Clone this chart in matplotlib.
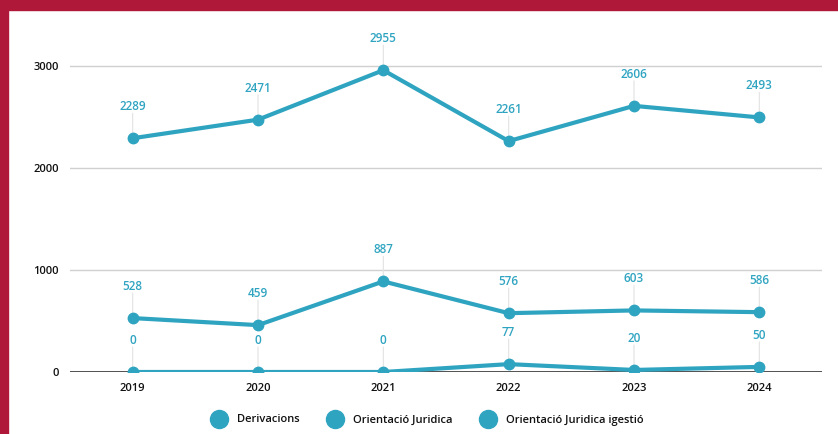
import matplotlib

matplotlib.use("Agg")
import matplotlib.pyplot as plt  # noqa: E402
from matplotlib.patches import Rectangle  # noqa: E402

years = [2019, 2020, 2021, 2022, 2023, 2024]
derivacions = [2289, 2471, 2955, 2261, 2606, 2493]
orientacio = [528, 459, 887, 576, 603, 586]
orientacio_gestio = [0, 0, 0, 77, 20, 50]
series_names = ["Derivacions", "Orientació Juridica", "Orientació Juridica igestió"]
yticks = [0, 1000, 2000, 3000]

C_LINE = "#2fa4c1"
C_BORDER = "#b0183a"

plt.rcParams["font.family"] = ["Open Sans", "DejaVu Sans"]

W, H = 838, 434
fig = plt.figure(figsize=(W / 100, H / 100), dpi=100)
fig.patches.append(Rectangle((0, 1 - 10 / H), 1, 10 / H, transform=fig.transFigure,
                             color=C_BORDER, zorder=-1))
fig.patches.append(Rectangle((0, 0), 8 / W, 1, transform=fig.transFigure,
                             color=C_BORDER, zorder=-1))

ax = fig.add_axes([70 / W, (H - 372) / H, (822 - 70) / W, (372 - 35) / H])
ax.set_xlim(2018.5, 2024.5)
ax.set_ylim(0, 3300)

for y in yticks[1:]:
    ax.axhline(y, color="#d0d0d0", lw=1, zorder=0)
ax.axhline(0, color="#333333", lw=1.2, zorder=1)

for vals in (derivacions, orientacio, orientacio_gestio):
    ax.plot(years, vals, color=C_LINE, lw=3, marker="o", ms=7.5, zorder=3,
            solid_capstyle="round")
    for x, v in zip(years, vals):
        ax.annotate("", xy=(x, v), xytext=(0, 18), textcoords="offset points",
                    xycoords="data",
                    arrowprops=dict(arrowstyle="-", color="#e2e2e2", lw=0.8,
                                    shrinkA=0, shrinkB=0), zorder=2)
        ax.annotate(str(v), (x, v), xytext=(0, 18), textcoords="offset points",
                    ha="center", va="bottom", color=C_LINE, fontsize=8.5,
                    fontweight="semibold")

for s in ax.spines.values():
    s.set_visible(False)
ax.set_xticks(years)
ax.set_xticklabels([str(y) for y in years])
ax.set_yticks(yticks)
ax.tick_params(length=0, labelsize=8, pad=8, labelcolor="#111111")
for lbl in ax.get_xticklabels() + ax.get_yticklabels():
    lbl.set_fontweight("semibold")

handles = [plt.Line2D([], [], ls="none", marker="o", ms=13, color=C_LINE)
           for _ in series_names]
leg = fig.legend(handles, series_names, loc="center",
                 bbox_to_anchor=(426 / W, 1 - 420 / H), ncol=3, frameon=False,
                 fontsize=8, handletextpad=0.6, columnspacing=2.2,
                 labelcolor="#111111")
for t in leg.get_texts():
    t.set_fontweight("semibold")

fig.savefig("out.png", dpi=100)
